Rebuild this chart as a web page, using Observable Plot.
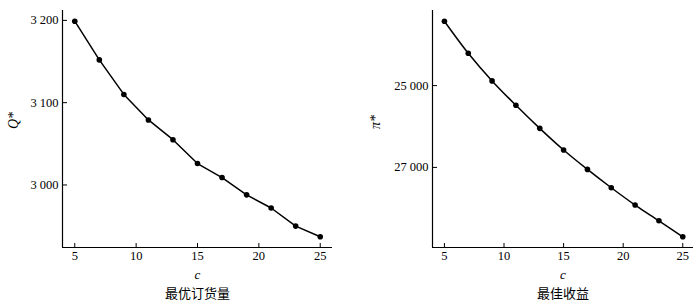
<!DOCTYPE html>
<html><head><meta charset="utf-8">
<script src="https://cdn.jsdelivr.net/npm/d3@7"></script>
<script src="https://cdn.jsdelivr.net/npm/@observablehq/plot@0.6"></script>
<style>
body{margin:0;background:#fff}
#wrap{display:flex;width:700px;height:305px}
#wrap svg{overflow:visible}
</style>
</head><body><div id="wrap"></div>
<script>
const c = [5, 7, 9, 11, 13, 15, 17, 19, 21, 23, 25];
const qStar = [3199, 3152, 3110, 3079, 3055, 3026, 3009, 2988, 2972, 2950, 2937];
const piStar = [23426, 24209, 24885, 25482, 26045, 26574, 27049, 27497, 27920, 28305, 28697];
const xTicks = [5, 10, 15, 20, 25];
const qTicks = [3000, 3100, 3200];
const qTickLabels = ["3 000", "3 100", "3 200"];
const piTicks = [25000, 27000];
const piTickLabels = ["25 000", "27 000"];
const xLabel = "c";
const qLabel = "Q*";
const piLabel = "π*";
const qCaption = "最优订货量";
const piCaption = "最佳收益";

const serif = "Liberation Serif";

function chart({values, yDomain, reverse, yTicks, yTickLabels, xDomain, yLabel, caption, marginLeft, marginRight, yLabelDx}) {
  const data = c.map((x, i) => ({x, y: values[i]}));
  const bottomVal = reverse ? yDomain[1] : yDomain[0];
  return Plot.plot({
    width: 350, height: 305,
    marginLeft, marginRight, marginTop: 10, marginBottom: 58,
    style: {fontFamily: serif, fontSize: "12px", color: "black", background: "white"},
    x: {domain: xDomain},
    y: {domain: yDomain, reverse},
    marks: [
      Plot.ruleX([xDomain[0]], {stroke: "black", strokeWidth: 1.2}),
      Plot.ruleY([bottomVal], {stroke: "black", strokeWidth: 1.2}),
      Plot.axisX(xTicks, {tickSize: -4, tickPadding: 8, label: null, tickFormat: d => String(d), fontSize: 12.5, fontFamily: serif}),
      Plot.axisY(yTicks, {tickSize: -5, tickPadding: 9, label: null, tickFormat: d => yTickLabels[yTicks.indexOf(d)], fontSize: 12.5, fontFamily: serif}),
      Plot.line(data, {x: "x", y: "y", stroke: "black", strokeWidth: 1.5, curve: reverse ? "catmull-rom" : "linear"}),
      Plot.dot(data, {x: "x", y: "y", r: 2.8, fill: "black"}),
      Plot.text([xLabel], {frameAnchor: "bottom", dy: 31, fontStyle: "italic", fontSize: 13, fontFamily: serif}),
      Plot.text([yLabel], {frameAnchor: "left", dx: yLabelDx, rotate: -90, fontStyle: "italic", fontSize: 14, fontFamily: serif}),
      Plot.text([caption], {frameAnchor: "bottom", dy: 50, fontFamily: "Noto Sans CJK SC", fontSize: 13})
    ]
  });
}

const wrap = document.getElementById("wrap");
wrap.append(chart({values: qStar, yDomain: [2924, 3212], reverse: false, yTicks: qTicks, yTickLabels: qTickLabels,
  xDomain: [4, 26], yLabel: qLabel, caption: qCaption, marginLeft: 62, marginRight: 18, yLabelDx: -49}));
wrap.append(chart({values: piStar, yDomain: [23164, 28958], reverse: true, yTicks: piTicks, yTickLabels: piTickLabels,
  xDomain: [4, 25.9], yLabel: piLabel, caption: piCaption, marginLeft: 82, marginRight: 7, yLabelDx: -57}));
</script>
</body></html>
